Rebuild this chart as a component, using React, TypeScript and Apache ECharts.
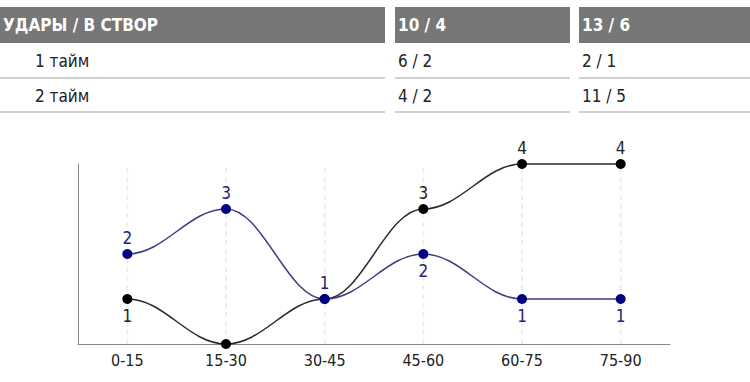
import React, { useEffect, useRef } from "react";
import * as echarts from "echarts";

const headers = ["УДАРЫ / В СТВОР", "10 / 4", "13 / 6"];
const rowLabels = ["1 тайм", "2 тайм"];
const team1Rows = ["6 / 2", "4 / 2"];
const team2Rows = ["2 / 1", "11 / 5"];

const categories = ["0-15", "15-30", "30-45", "45-60", "60-75", "75-90"];
const blackValues = [1, 0, 1, 3, 4, 4];
const blueValues = [2, 3, 1, 2, 1, 1];
const blackLabelPos = ["bottom", "none", "none", "top", "top", "top"];
const blueLabelPos = ["top", "top", "top", "bottom", "bottom", "bottom"];

const FONT = "'DejaVu Sans Condensed', 'DejaVu Sans', sans-serif";

// smooth curve with horizontal tangents at every point
function flatSplinePath(pts: number[][], k: number): string {
  let d = `M${pts[0][0]},${pts[0][1]}`;
  for (let i = 1; i < pts.length; i++) {
    const [x0, y0] = pts[i - 1];
    const [x1, y1] = pts[i];
    const dx = x1 - x0;
    d += ` C${x0 + k * dx},${y0} ${x1 - k * dx},${y1} ${x1},${y1}`;
  }
  return d;
}

export default function App() {
  const ref = useRef<HTMLDivElement>(null);
  useEffect(() => {
    document.body.style.margin = "0";
    const chart = echarts.init(ref.current!, null, { renderer: "svg" });
    const cols = [
      { x: 0, w: 385, tx: 3, rx: 35 },
      { x: 395, w: 175, tx: 398, rx: 398 },
      { x: 579, w: 171, tx: 582, rx: 582 },
    ];
    const rowsByCol = [rowLabels, team1Rows, team2Rows];
    const graphics: any[] = [];
    cols.forEach((c, i) => {
      graphics.push({
        type: "rect",
        shape: { x: c.x, y: 7, width: c.w, height: 36 },
        style: { fill: "#777777" },
        silent: true,
      });
      graphics.push({
        type: "text",
        x: c.tx,
        y: 25,
        style: {
          text: headers[i],
          fill: "#ffffff",
          font: `bold 17px ${FONT}`,
          verticalAlign: "middle",
        },
        silent: true,
      });
      rowsByCol[i].forEach((t, r) => {
        graphics.push({
          type: "text",
          x: c.rx,
          y: 61 + r * 35,
          style: {
            text: t,
            fill: "#222222",
            font: `17px ${FONT}`,
            verticalAlign: "middle",
          },
          silent: true,
        });
        graphics.push({
          type: "rect",
          shape: { x: c.x, y: 77 + r * 34, width: c.w, height: 2 },
          style: { fill: "#d0d0d0" },
          silent: true,
        });
      });
    });

    const mk = (vals: number[], pos: string[]) =>
      vals.map((v, i) => ({
        value: v,
        label: pos[i] === "none" ? { show: false } : { show: true, position: pos[i] },
      }));

    const curveSeries = (vals: number[], color: string, z: number) => ({
      type: "custom",
      data: [[0, vals[0]]],
      silent: true,
      z,
      renderItem: (_p: any, api: any) => {
        const pts = vals.map((v, i) => api.coord([i, v]));
        return {
          type: "path",
          shape: { pathData: flatSplinePath(pts, 0.38) },
          style: { stroke: color, fill: "none", lineWidth: 1.5 },
        };
      },
    });

    chart.setOption({
      animation: false,
      graphic: graphics,
      grid: { left: 78, right: 80, top: 164, bottom: 38 },
      xAxis: {
        type: "category",
        data: categories,
        boundaryGap: true,
        axisLine: { lineStyle: { color: "#8a8a8a", width: 1 } },
        axisTick: { show: false },
        axisLabel: { color: "#222222", fontSize: 16, fontFamily: FONT, margin: 8 },
        splitLine: { show: false },
      },
      yAxis: {
        type: "value",
        min: 0,
        max: 4,
        interval: 1,
        axisLine: { show: true, lineStyle: { color: "#8a8a8a", width: 1 } },
        axisTick: { show: false },
        axisLabel: { show: false },
        splitLine: { show: false },
      },
      series: [
        {
          type: "custom",
          data: categories.map((_c, i) => [i, 0]),
          silent: true,
          z: 1,
          renderItem: (_p: any, api: any) => {
            const i = api.value(0);
            const a = api.coord([i, 0]);
            const b = api.coord([i, 4]);
            return {
              type: "line",
              shape: { x1: a[0], y1: a[1], x2: b[0], y2: b[1] },
              style: { stroke: "#eeeeee", lineWidth: 2, lineDash: [5, 4] },
            };
          },
        },
        curveSeries(blackValues, "#2a2a2a", 2),
        curveSeries(blueValues, "#3c3c88", 3),
        {
          type: "line",
          data: mk(blackValues, blackLabelPos),
          symbol: "circle",
          symbolSize: 10,
          itemStyle: { color: "#000000" },
          lineStyle: { width: 0, opacity: 0 },
          label: { color: "#222222", fontSize: 17, fontFamily: FONT, distance: 3 },
          z: 4,
        },
        {
          type: "line",
          data: mk(blueValues, blueLabelPos),
          symbol: "circle",
          symbolSize: 10,
          itemStyle: { color: "#000080" },
          lineStyle: { width: 0, opacity: 0 },
          label: { color: "#23237a", fontSize: 17, fontFamily: FONT, distance: 3 },
          z: 5,
        },
      ],
    });
    return () => chart.dispose();
  }, []);
  return (
    <div
      ref={ref}
      style={{ position: "absolute", left: 0, top: 0, width: 750, height: 382 }}
    />
  );
}
